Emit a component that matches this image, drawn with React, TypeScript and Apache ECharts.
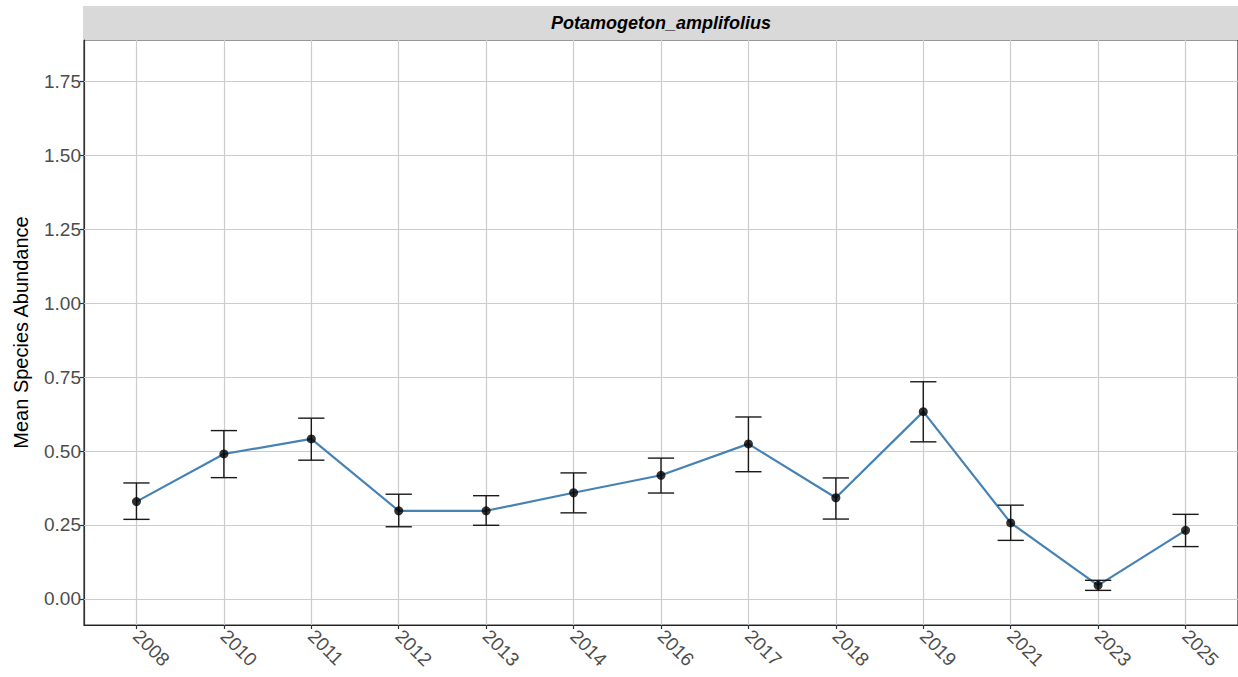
import React, { useEffect, useRef } from "react";
import * as echarts from "echarts";

const years = ["2008", "2010", "2011", "2012", "2013", "2014", "2016", "2017", "2018", "2019", "2021", "2023", "2025"];
const means = [0.329, 0.49, 0.541, 0.298, 0.298, 0.359, 0.418, 0.524, 0.342, 0.633, 0.257, 0.046, 0.232];
const lower = [0.269, 0.41, 0.469, 0.244, 0.249, 0.291, 0.358, 0.43, 0.27, 0.531, 0.198, 0.029, 0.177];
const upper = [0.392, 0.569, 0.611, 0.354, 0.349, 0.426, 0.476, 0.615, 0.409, 0.734, 0.317, 0.063, 0.286];
const yTicks = [0, 0.25, 0.5, 0.75, 1.0, 1.25, 1.5, 1.75];
const facetTitle = "Potamogeton_amplifolius";
const yTitle = "Mean Species Abundance";

const FONT = "'Liberation Sans', Arial, sans-serif";

export default function App() {
  const ref = useRef<HTMLDivElement>(null);
  useEffect(() => {
    if (!ref.current) return;
    const chart = echarts.init(ref.current, null, { renderer: "svg" });
    const xIdx = years.map((_, i) => i);
    const gridStyle = { color: "#CCCCCC", width: 1.2, type: "solid" as const };
    chart.setOption({
      animation: false,
      backgroundColor: "#FFFFFF",
      textStyle: { fontFamily: FONT },
      graphic: [
        {
          type: "rect",
          shape: { x: 83, y: 6, width: 1160, height: 34 },
          style: { fill: "#D9D9D9" },
          z: 0,
        },
        {
          type: "text",
          x: 661,
          y: 23,
          style: {
            text: facetTitle,
            font: `italic bold 18px ${FONT}`,
            fill: "#000000",
            align: "center",
            verticalAlign: "middle",
          },
          z: 10,
        },
      ],
      grid: {
        left: 84,
        top: 40,
        width: 1155,
        height: 585,
        show: true,
        borderColor: "#333333",
        borderWidth: 1.2,
        backgroundColor: "transparent",
      },
      xAxis: {
        type: "value",
        min: -0.6,
        max: 12.6,
        splitLine: { show: false },
        axisLine: { show: true, onZero: false, lineStyle: { color: "#222222", width: 1.2 } },
        axisTick: { show: true, customValues: xIdx, length: 4, lineStyle: { color: "#333333", width: 1.2 } },
        axisLabel: {
          customValues: xIdx,
          formatter: (v: number) => years[Math.round(v)] ?? "",
          rotate: -45,
          margin: 8,
          color: "#4D4D4D",
          fontSize: 19,
          fontFamily: FONT,
        },
      },
      yAxis: {
        type: "value",
        min: -0.088,
        max: 1.889,
        splitLine: { show: false },
        axisLine: { show: true, onZero: false, lineStyle: { color: "#333333", width: 1.2 } },
        axisTick: { show: true, customValues: yTicks, length: 4, lineStyle: { color: "#333333", width: 1.2 } },
        axisLabel: {
          customValues: yTicks,
          formatter: (v: number) => v.toFixed(2),
          margin: 3,
          color: "#4D4D4D",
          fontSize: 19,
          fontFamily: FONT,
        },
        name: yTitle,
        nameLocation: "middle",
        nameGap: 53,
        nameRotate: 90,
        nameTextStyle: { color: "#000000", fontSize: 20, fontFamily: FONT },
      },
      series: [
        {
          type: "line",
          data: [],
          silent: true,
          z: 1,
          markLine: {
            silent: true,
            z: 1,
            symbol: "none",
            label: { show: false },
            lineStyle: gridStyle,
            animation: false,
            data: [
              ...xIdx.map((i) => ({ xAxis: i })),
              ...yTicks.map((v) => ({ yAxis: v })),
            ],
          },
        },
        {
          type: "line",
          data: means.map((m, i) => [i, m]),
          symbol: "none",
          lineStyle: { color: "#4682B4", width: 2.2 },
          z: 3,
        },
        {
          type: "custom",
          data: years.map((_, i) => [i, lower[i], upper[i]]),
          encode: { x: 0, y: [1, 2] },
          z: 4,
          renderItem: (params: any, api: any) => {
            const x = api.value(0);
            const lo = api.coord([x, api.value(1)]);
            const hi = api.coord([x, api.value(2)]);
            const hw = api.size([0.3, 0])[0] / 2;
            const style = { stroke: "#1A1A1A", lineWidth: 1.4 };
            return {
              type: "group",
              children: [
                { type: "line", shape: { x1: lo[0], y1: lo[1], x2: hi[0], y2: hi[1] }, style },
                { type: "line", shape: { x1: hi[0] - hw, y1: hi[1], x2: hi[0] + hw, y2: hi[1] }, style },
                { type: "line", shape: { x1: lo[0] - hw, y1: lo[1], x2: lo[0] + hw, y2: lo[1] }, style },
              ],
            };
          },
        },
        {
          type: "scatter",
          data: means.map((m, i) => [i, m]),
          symbol: "circle",
          symbolSize: 9,
          itemStyle: { color: "#000000" },
          z: 5,
        },
      ],
    });
    return () => chart.dispose();
  }, []);
  return (
    <div
      ref={ref}
      style={{ position: "absolute", left: 0, top: 0, width: 1238, height: 677, background: "#FFFFFF" }}
    />
  );
}
